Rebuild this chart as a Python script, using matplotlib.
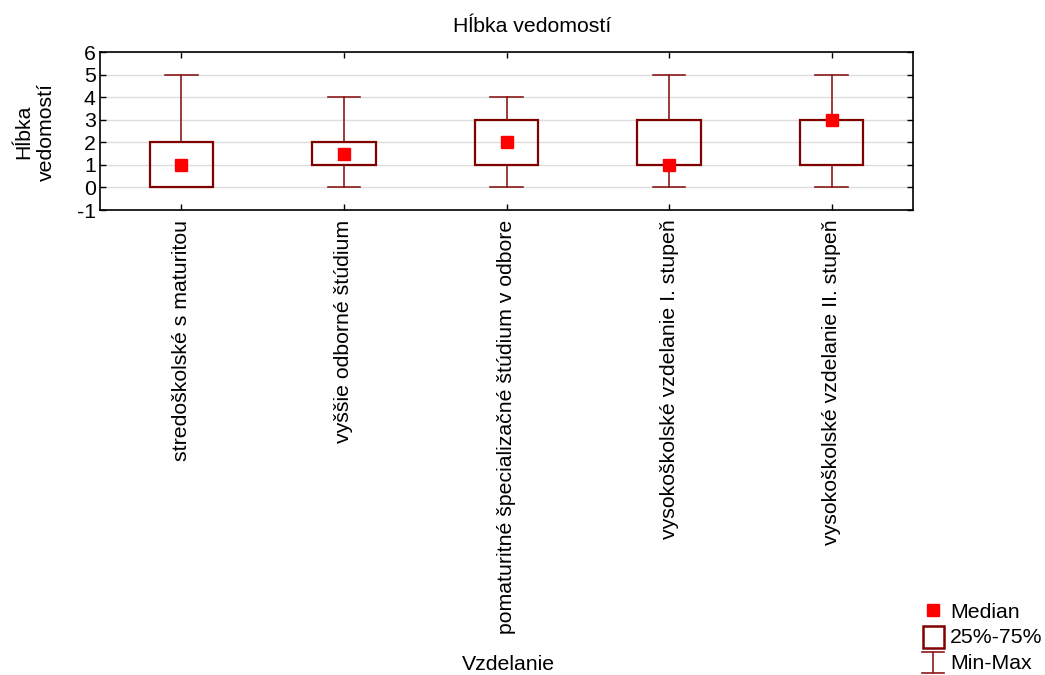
import matplotlib
matplotlib.use("Agg")
import matplotlib.pyplot as plt
from matplotlib.lines import Line2D
from matplotlib.patches import Rectangle
from matplotlib.legend_handler import HandlerBase

plt.rcParams['font.family'] = ['Liberation Sans', 'DejaVu Sans']
plt.rcParams['axes.unicode_minus'] = False

categories = ["stredoškolské s maturitou",
              "vyššie odborné štúdium",
              "pomaturitné špecializačné štúdium v odbore",
              "vysokoškolské vzdelanie I. stupeň",
              "vysokoškolské vzdelanie II. stupeň"]
mins = [0, 0, 0, 0, 0]
q1 = [0, 1, 1, 1, 1]
medians = [1, 1.5, 2, 1, 3]
q3 = [2, 2, 3, 3, 3]
maxs = [5, 4, 4, 5, 5]

box_col = "#800000"
wh_col = "#8b1a1a"
med_col = "#ff0000"
fs = 15.3

fig = plt.figure(figsize=(10.45, 6.75), dpi=100)
ax = fig.add_axes([100/1045, 1-210/675, 813/1045, 158/675])

bw = 0.39
cw = 0.2
for i in range(len(categories)):
    x = i + 1
    ax.plot([x, x], [q3[i], maxs[i]], color=wh_col, lw=1.2, zorder=2)
    ax.plot([x, x], [mins[i], q1[i]], color=wh_col, lw=1.2, zorder=2)
    ax.plot([x-cw/2, x+cw/2], [maxs[i], maxs[i]], color=wh_col, lw=1.2, zorder=2)
    ax.plot([x-cw/2, x+cw/2], [mins[i], mins[i]], color=wh_col, lw=1.2, zorder=2)
    ax.add_patch(Rectangle((x-bw/2, q1[i]), bw, q3[i]-q1[i], fill=False,
                           edgecolor=box_col, lw=1.6, zorder=3))
ax.plot(range(1, len(categories)+1), medians, 's', color=med_col, ms=8,
        mec=med_col, zorder=4, linestyle='none')

ax.set_xlim(0.5, 5.5)
ax.set_ylim(-1, 6)
ax.set_yticks(range(-1, 7))
ax.set_xticks(range(1, 6))
ax.set_xticklabels(categories, rotation=90, va='top', ha='center', fontsize=fs)
ax.tick_params(axis='y', labelsize=fs, pad=3)
ax.tick_params(axis='x', pad=7)
ax.tick_params(direction='in', top=True, right=True, length=4, width=1)
ax.grid(axis='y', color='#dddddd', lw=1)
ax.set_axisbelow(True)
for s in ax.spines.values():
    s.set_linewidth(1.2)

fig.text(35/1045, 1-132/675, "Hĺbka\nvedomostí", rotation=90, ha='center',
         va='center', fontsize=fs, linespacing=1.25)
fig.text(532/1045, 1-26/675, "Hĺbka vedomostí", ha='center', va='center', fontsize=fs)
fig.text(508/1045, 1-665/675, "Vzdelanie", ha='center', va='center', fontsize=fs)


class MinMaxHandler(HandlerBase):
    def create_artists(self, legend, orig, xd, yd, w, h, fs, trans):
        cx = xd + w/2
        l1 = Line2D([cx, cx], [yd - 3, yd + h + 2], color=wh_col, lw=1.2, transform=trans)
        l2 = Line2D([cx-8, cx+8], [yd - 3, yd - 3], color=wh_col, lw=1.2, transform=trans)
        l3 = Line2D([cx-8, cx+8], [yd + h + 2, yd + h + 2], color=wh_col, lw=1.2, transform=trans)
        return [l1, l2, l3]


class BoxHandler(HandlerBase):
    def create_artists(self, legend, orig, xd, yd, w, h, fs, trans):
        cx = xd + w/2
        r = Rectangle((cx-7.5, yd-3), 15, h+5, fill=False, edgecolor=box_col,
                      lw=1.8, transform=trans)
        return [r]


h_med = Line2D([], [], marker='s', color=med_col, ms=8, linestyle='none')
h_box = Rectangle((0, 0), 1, 1)
h_mm = Line2D([], [])
fig.legend([h_med, h_box, h_mm], ["Median", "25%-75%", "Min-Max"],
           handler_map={h_box: BoxHandler(), h_mm: MinMaxHandler()},
           loc='upper left', bbox_to_anchor=(913/1045, 1-592/675),
           frameon=False, fontsize=fs, handlelength=0.9, handletextpad=0.35,
           labelspacing=0.32, borderpad=0)

fig.savefig("out.png", dpi=100)
